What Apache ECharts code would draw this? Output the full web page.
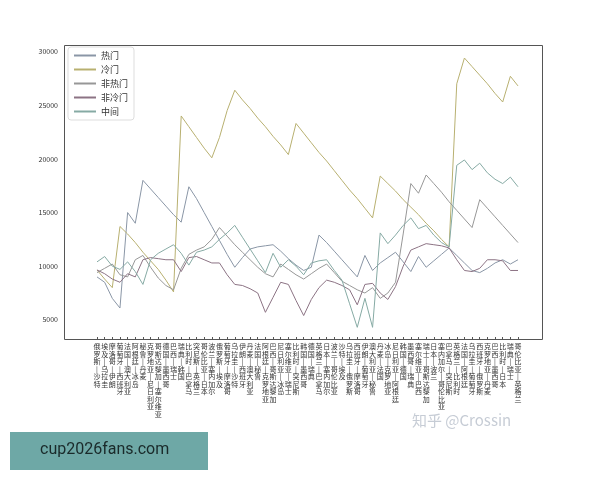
<!DOCTYPE html>
<html>
<head>
<meta charset="utf-8">
<script src="https://cdn.jsdelivr.net/npm/echarts@6/dist/echarts.min.js"></script>
<style>
html, body {margin: 0; padding: 0; background: #fff;}
#chart {width: 600px; height: 480px;}
</style>
</head>
<body>
<div id="chart"></div>
<script>
// 比赛（小组赛 + 1/8 决赛）
var matches = ['俄罗斯-沙特','埃及-乌拉圭','摩洛哥-伊朗','葡萄牙-西班牙','法国-澳大利亚','阿根廷-冰岛','秘鲁-丹麦','克罗地亚-尼日利亚',
    '哥斯达黎加-塞尔维亚','德国-墨西哥','巴西-瑞士','瑞典-韩国','比利时-巴拿马','突尼斯-英格兰','哥伦比亚-日本','波兰-塞内加尔',
    '俄罗斯-埃及','葡萄牙-摩洛哥','乌拉圭-沙特','伊朗-西班牙','丹麦-澳大利亚','法国-秘鲁','阿根廷-克罗地亚','巴西-哥斯达黎加',
    '尼日利亚-冰岛','塞尔维亚-瑞士','比利时-突尼斯','韩国-墨西哥','德国-瑞典','英格兰-巴拿马','日本-塞内加尔','波兰-哥伦比亚',
    '沙特-埃及','乌拉圭-俄罗斯','西班牙-摩洛哥','伊朗-葡萄牙','澳大利亚-秘鲁','丹麦-法国','冰岛-克罗地亚','尼日利亚-阿根廷',
    '韩国-德国','墨西哥-瑞典','塞尔维亚-巴西','瑞士-哥斯达黎加','日本-波兰','塞内加尔-哥伦比亚','巴拿马-突尼斯','英格兰-比利时',
    '法国-阿根廷','乌拉圭-葡萄牙','西班牙-俄罗斯','克罗地亚-丹麦','巴西-墨西哥','比利时-日本','瑞典-瑞士','哥伦比亚-英格兰'];

var seriesNames = ['热门', '冷门', '非热门', '非冷门', '中间'];
var seriesColors = ['#8a96a6', '#b8b070', '#979797', '#8c7384', '#86aaa4'];

var hot = [9000,8500,7000,6100,15000,14000,18000,17200,16400,15600,14800,14100,17400,16300,15000,13700,
    12400,11100,9900,10800,11600,11800,11900,12000,11400,10700,10100,9600,9900,12900,12200,11400,
    10600,9800,9000,11000,9600,10300,10800,11300,10400,9500,10900,9900,10500,11100,11700,11000,
    10300,9600,9400,9800,10300,10600,10200,10600];
var cold = [9650,8800,8000,13700,13000,12200,11300,10500,9700,8700,7600,24000,23000,22000,21000,20100,
    22000,24500,26400,25500,24700,23800,23000,22100,21300,20400,23300,22400,21500,20600,19800,18900,
    18000,17100,16300,15400,14500,18400,17700,17000,16200,15500,14800,14000,13300,12500,11800,27000,
    29400,28600,27800,27000,26100,25300,27700,26800];
var notHot = [9400,9800,10200,9200,9000,10600,11000,9900,8900,8200,7800,9800,11100,11500,11800,12500,
    13600,12800,12000,11300,10600,9900,9300,9000,10200,9700,9200,8800,9300,9800,10200,9400,
    8600,8200,7800,7500,8000,7000,7500,8500,13000,17700,16800,18500,17700,16900,16000,15200,
    14400,13600,16200,15400,14600,13800,13000,12200];
var notCold = [9650,9300,8800,8500,9300,9000,10600,10800,10700,10600,10600,9500,10800,10900,10600,10300,
    10300,9200,8300,8200,7900,7500,5700,7100,8500,8300,6800,5400,6900,8000,8700,8500,
    8200,7800,6400,8300,8400,7500,6900,8100,10000,11500,11800,12100,12000,11900,11700,10600,
    9600,9500,9800,10600,10600,10500,9600,9600];
var middle = [10400,10900,10000,9700,10400,9500,8300,10600,11200,11600,12000,11200,10100,11300,11500,11800,
    12500,13100,13800,12700,11600,10500,9400,11200,9900,10600,10000,9200,10300,10500,10600,9600,
    8700,6500,4300,7000,4300,13100,12100,12900,13800,14500,13500,13800,12900,12200,11800,19400,
    19900,19000,19600,18700,18100,17700,18300,17400];

var yTicks = [5000, 10000, 15000, 20000, 25000, 30000];

var allData = [hot, cold, notHot, notCold, middle];

var myChart = echarts.init(document.getElementById('chart'));

var series = allData.map(function (d, i) {
    return {
        name: seriesNames[i],
        type: 'line',
        data: d,
        symbol: 'none',
        lineStyle: {width: 1, color: seriesColors[i]},
        itemStyle: {color: seriesColors[i]}
    };
});

var option = {
    animation: false,
    textStyle: {fontFamily: 'Noto Sans CJK SC'},
    // 绘图区四周留白，外框用 graphic 画
    grid: {left: 97, right: 82, top: 43, bottom: 143},
    legend: {
        orient: 'vertical',
        left: 68,
        top: 47,
        itemWidth: 22,
        itemHeight: 2,
        itemGap: 5,
        padding: [4, 6],
        borderColor: '#ddd',
        borderWidth: 1,
        borderRadius: 3,
        icon: 'rect',
        textStyle: {fontSize: 9, color: '#333'},
        data: seriesNames
    },
    xAxis: {
        type: 'category',
        data: matches,
        boundaryGap: false,
        axisLine: {show: false},
        axisTick: {length: 3, lineStyle: {color: '#555'}},
        axisLabel: {
            interval: 0,
            fontSize: 7,
            lineHeight: 7.5,
            color: '#333',
            margin: 6,
            formatter: function (v) {
                return v.replace('-', '|').split('').join('\n');
            }
        }
    },
    yAxis: {
        type: 'value',
        min: 3400,
        max: 30800,
        splitLine: {show: false},
        axisLine: {show: false},
        axisTick: {show: false},
        axisLabel: {fontSize: 7, color: '#333', margin: 39, customValues: yTicks, formatter: function (v) { return String(v); }}
    },
    graphic: [
        {type: 'rect', left: 62, top: 43, shape: {width: 478, height: 294}, style: {fill: 'none', stroke: '#555', lineWidth: 1}, silent: true},
        {type: 'text', left: 412, top: 413, style: {text: '知乎 @Crossin', fontSize: 15, fill: 'rgba(160,170,185,0.6)', fontFamily: 'Noto Sans CJK SC'}},
        {type: 'rect', left: 10, top: 432, shape: {width: 198, height: 38}, style: {fill: '#6ea8a6'}},
        {type: 'text', left: 40, top: 442, style: {text: 'cup2026fans.com', fontSize: 16, fill: '#1a2a2a', fontFamily: 'Roboto'}}
    ],
    series: series
};

myChart.setOption(option);
</script>
</body>
</html>
